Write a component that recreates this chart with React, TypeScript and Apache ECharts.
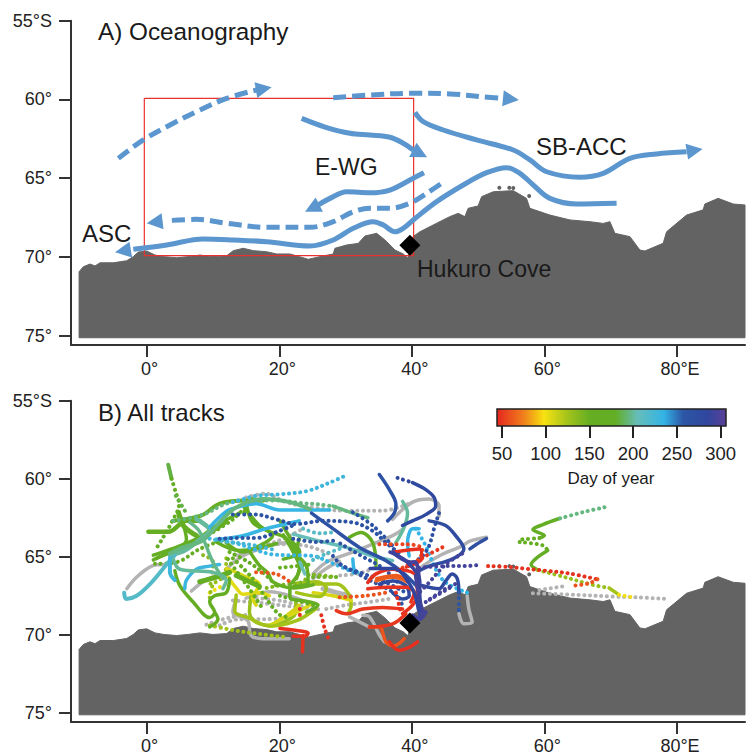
import React, { useEffect, useRef } from "react";
import * as echarts from "echarts";

type P = [number, number];
type Track = { day: number | null; dot: number; pts: P[]; w?: number };

const FONT = "'Liberation Sans', Arial, sans-serif";
const lonTicks = [0, 20, 40, 60, 80];
const latTicks = [55, 60, 65, 70, 75];
const dayTicks = [50, 100, 150, 200, 250, 300];
const colorDays = [44.3, 75, 98, 125, 150, 180, 205, 235, 257, 285, 306.2];
const colorHex = ["#e6261f", "#f0801c", "#f8e211", "#a3c31b", "#66ae22", "#62ae26", "#66bdb9", "#33b4e6", "#2c56a6", "#30469e", "#5b3f98"];

const coast: P[] = [
  [-10.2, 70.94], [-9.56, 70.62], [-8.55, 70.45], [-7.8, 70.57], [-7.04, 70.37], [-5.03, 70.37], [-3.02, 70.24], [-2.02, 69.98], [-1.27, 69.69],
  [0, 69.62], [1.25, 69.88], [2.6, 69.98], [4.52, 70.05], [6.2, 69.98], [8.04, 69.88], [10, 69.98], [12.07, 69.92], [13.06, 69.6], [14.57, 69.45], [16.08, 69.6], [18.1, 69.67], [19.6, 69.81],
  [21.6, 69.81], [23, 69.98], [24.37, 70.15], [26.14, 69.98], [28.14, 69.81], [28.4, 69.45], [30.17, 69.24], [31.9, 69.14], [32.93, 68.67], [34.69, 68.5], [35.94, 68.92],
  [37.45, 69.56], [38.7, 69.81], [39.4, 70.07], [40.17, 68.71], [41.22, 68.4], [43.74, 67.86], [45.72, 67.44], [47.0, 67.23], [48.0, 67.44], [48.5, 66.91],
  [50.0, 66.76], [50.53, 66.17], [52.28, 65.86], [55.3, 65.79], [57.3, 66.28], [57.8, 66.91], [60.83, 67.34], [63.85, 67.65], [66.86, 67.76], [68.87, 67.87],
  [69.88, 67.76], [70.63, 68.5], [72.9, 68.71], [74.4, 69.56], [75.16, 69.62], [77.92, 69.13], [78.43, 68.4], [81.45, 67.34], [83.95, 67.01], [84.2, 66.64],
  [86.2, 66.28], [88.5, 66.64], [90.26, 66.7], [90.26, 75.13], [-10.2, 75.13],
];
const islands: P[] = [[53.2, 65.6], [54.7, 65.6], [55.3, 65.62], [57.7, 66.13]];
const cove: P[] = [[39.7, 69.25]];
const redBox: P[] = [[-0.36, 59.93], [40.27, 59.93], [40.27, 69.92], [-0.36, 69.92], [-0.36, 59.93]];

const arrowNW: P[] = [[-4.28, 63.74], [-0.51, 62.57], [4.01, 61.51], [8.04, 60.67], [12.07, 59.93], [16.59, 59.4]];
const arrowNE: P[] = [[28.14, 59.89], [33.68, 59.72], [39.71, 59.61], [45.75, 59.65], [50.77, 59.83], [53.79, 59.93]];
const arrowWG: P[] = [[23.38, 61.2], [26.9, 61.75], [30.66, 62.15], [33.68, 62.26], [36.7, 62.4], [38.7, 62.78], [40.2, 63.21]];
const arrowSB: P[] = [[40.47, 60.82], [41.72, 61.41], [44.74, 61.94], [49.77, 62.57], [55.3, 63.21], [57.81, 63.84], [60.33, 64.59], [65.36, 64.94], [68.87, 64.69], [72.9, 63.74], [76.92, 63.46], [81.45, 63.32]];
const arrowASC: P[] = [[70.89, 66.59], [64.86, 66.64], [60.83, 66.28], [58.31, 65.43], [56.3, 64.69], [54.3, 64.33], [51.28, 64.65], [47.75, 65.43], [43.74, 66.49], [40.21, 67.65], [38.7, 68.18], [37.45, 68.4], [35.69, 67.97], [34.18, 67.76], [31.16, 68.18], [28.14, 68.92], [24.63, 69.3], [18.1, 69.03], [13.06, 68.92], [8.54, 68.86], [3.02, 69.24], [-2.02, 69.51]];
const arrowLow: P[] = [[41.83, 64.65], [40.21, 65.0], [36.7, 65.75], [33.68, 65.92], [30.17, 65.86], [27.65, 66.28], [25.8, 66.72]];
const arrowDash: P[] = [[44.34, 65.37], [42.23, 65.96], [39.71, 66.59], [36.7, 66.91], [33.68, 66.91], [31.16, 67.13], [28.14, 67.76], [24.63, 68.12], [18.1, 68.12], [12.07, 67.86], [7.54, 67.61], [3.02, 67.7]];
const arrows: { pts: P[]; tip: P; dash: boolean }[] = [
  { pts: arrowNW, tip: [18.85, 59.23], dash: true },
  { pts: arrowNE, tip: [56.15, 60.03], dash: true },
  { pts: arrowWG, tip: [42.3, 63.67], dash: false },
  { pts: arrowSB, tip: [83.86, 63.15], dash: false },
  { pts: arrowASC, tip: [-4.78, 69.7], dash: false },
  { pts: arrowLow, tip: [23.88, 67.13], dash: false },
  { pts: arrowDash, tip: [0, 67.86], dash: true },
];

const grayTracks: Track[] = [
  { day: null, dot: 0, pts: [[-3, 67.05], [-1.5, 66.3], [0.75, 65.6], [2.5, 65.5]] },
  { day: null, dot: 0, pts: [[6.75, 67.2], [8.5, 66.6], [10.5, 66.2]] },
  { day: null, dot: 1, pts: [[15, 61.2], [18, 60.95], [19, 61.1], [21, 61.5], [25.1, 61.85], [30.1, 62.05], [35.6, 62.05], [40.1, 61.5]] },
  { day: null, dot: 0, pts: [[37.1, 62.6], [40.1, 61.5], [42.6, 61.3], [44.1, 61.75], [44.1, 62.4]] },
  { day: null, dot: 0, pts: [[12, 65.8], [14.5, 64.95], [18.5, 64.3], [21, 64.1], [23, 64.5]] },
  { day: null, dot: 0, pts: [[13.5, 67.7], [13, 68.55], [15.25, 69.1], [15.75, 70.05], [17.5, 70.25], [21.5, 70.25]] },
  { day: null, dot: 1, pts: [[13, 67.8], [18, 68], [22, 68.2], [26.6, 68.4]] },
  { day: null, dot: 1, pts: [[11, 69.4], [14, 69], [18, 69], [22, 68.9]] },
  { day: null, dot: 1, pts: [[14, 64.9], [17, 64.5], [20, 64.2], [24, 64.3], [28, 64.9]] },
  { day: null, dot: 0, pts: [[25.1, 66.1], [27.1, 65.35], [31.1, 64.7], [37.1, 63.65], [38.6, 63.25]] },
  { day: null, dot: 0, pts: [[26.6, 67.05], [28.6, 67.3], [30.6, 67.5]], w: 5 },
  { day: null, dot: 1, pts: [[27.1, 68.35], [30.1, 68.1], [33.6, 67.9], [36.6, 67.7]] },
  { day: null, dot: 0, pts: [[32.6, 68.75], [33.6, 68.85], [35.1, 70], [35.85, 70.45]] },
  { day: null, dot: 0, pts: [[30.6, 68.85], [33.6, 69.5]] },
  { day: null, dot: 0, pts: [[51.26, 63.75], [48.76, 64], [47.6, 64.3], [44.1, 64.95], [41.6, 65.6]] },
  { day: null, dot: 0, pts: [[48.35, 67.5], [48.6, 68.35], [49.1, 69.2], [47.85, 69.3], [47.1, 68.65]] },
  { day: null, dot: 1, pts: [[59.26, 67.13], [63.26, 66.87]] },
  { day: null, dot: 1, pts: [[58.26, 67.34], [64.76, 67.44], [70.26, 67.55], [73.76, 67.6], [78.5, 67.7]] },
  { day: null, dot: 1, pts: [[13.5, 64.9], [17, 64.4], [20.6, 63.85], [23.6, 63.2]] },
  { day: null, dot: 0, pts: [[15, 67.65], [18.6, 67.25], [22.6, 67.65], [25.1, 68.1]] },
  { day: null, dot: 1, pts: [[9, 69.35], [12.5, 68.9], [15.6, 68.7]] },
  { day: null, dot: 1, pts: [[16.6, 67.65], [20.6, 67.85], [23.6, 68.2]] },
  { day: null, dot: 0, pts: [[25.1, 66.4], [27.1, 65.75], [29.1, 65.3]] },
  { day: null, dot: 1, pts: [[29.2, 66.2], [32.2, 66.05], [34.7, 65.65]] },
];

const yellowTracks: Track[] = [
  { day: 125, dot: 1, pts: [[9.5, 69.4], [13, 69.7], [17, 69.95], [21, 70.15]] },
  { day: 135, dot: 1, pts: [[8.5, 64.9], [10, 65.35], [9.5, 67.05]] },
  { day: 130, dot: 0, pts: [[15.75, 67.5], [15.5, 68.55], [16.5, 69.2], [19, 69.4], [21.5, 69], [22.5, 68.55], [22.5, 67.9]] },
  { day: 105, dot: 0, pts: [[12.25, 66.3], [13.5, 67], [14.5, 67.4], [17, 67.3], [18.5, 67.5]] },
  { day: 100, dot: 1, pts: [[9.5, 67.3], [11.5, 66.85], [13, 66.6]] },
  { day: 110, dot: 0, pts: [[18.5, 69.4], [20.5, 68.95], [22.5, 68.3], [23, 68.1]] },
  { day: 108, dot: 0, pts: [[20.1, 69], [22.6, 68.55], [25.1, 68]] },
  { day: 125, dot: 0, pts: [[25.1, 66.75], [28.6, 66.75], [30.35, 67.3], [30.85, 68.1], [30.35, 68.65]] },
  { day: 108, dot: 0, pts: [[25.1, 67.3], [28.1, 67.5], [30.85, 67.8]] },
  { day: 150, dot: 1, pts: [[25.1, 66.3], [29.1, 66.3]] },
  { day: 150, dot: 1, pts: [[20.1, 65.7], [22.6, 65.6], [24.6, 65.5]] },
  { day: 130, dot: 1, pts: [[12, 65.1], [11.8, 66.15], [10, 66.8], [9.5, 67.65]] },
  { day: 108, dot: 0, pts: [[12, 65.75], [14.5, 66.2], [17, 66.8], [16, 67.65], [16.5, 68.1]] },
  { day: 125, dot: 0, pts: [[13.5, 67.45], [13.3, 68.5], [15.3, 68.9], [18.6, 69.45], [22.6, 69.1], [25.6, 68.3]] },
  { day: 125, dot: 0, pts: [[22.6, 67.3], [26.1, 67.55], [27.1, 67], [25.6, 66.6], [22.6, 66.7]] },
  { day: 140, dot: 1, pts: [[18.1, 67], [20.6, 66.8], [23.6, 66.6], [24.6, 66.15], [28.6, 66.3]] },
];

const greenTracks: Track[] = [
  { day: 185, dot: 0, pts: [[3.25, 59.1], [3.75, 60.0]], w: 4 },
  { day: 175, dot: 1, pts: [[3.75, 60.0], [4.4, 60.9], [4.9, 61.6], [3.75, 62.8], [2.5, 63.75], [1.25, 64.6]] },
  { day: 185, dot: 1, pts: [[4.4, 61.1], [6.1, 62.3]] },
  { day: 160, dot: 0, pts: [[0.25, 63.4], [3.25, 63.4], [6, 62.7], [8, 62.7]], w: 4.5 },
  { day: 160, dot: 0, pts: [[1, 65.2], [2, 65], [4.75, 64.5], [6, 63.9], [5.5, 62.9], [5, 62.3]] },
  { day: 160, dot: 0, pts: [[4.25, 65.9], [5, 66.85], [7, 67.9], [9.5, 68.9], [10.25, 68.55], [9.5, 67.9], [10.25, 67.5], [12, 67.3], [12.5, 66.4]] },
  { day: 160, dot: 0, pts: [[9.5, 69.5], [10.75, 69], [10.25, 68.55]] },
  { day: 165, dot: 0, pts: [[8, 66.6], [10.5, 66.3], [12.5, 66]], w: 5 },
  { day: 160, dot: 0, pts: [[14.75, 62.2], [15.25, 61.6], [17.5, 61.4]] },
  { day: 160, dot: 0, pts: [[15, 62], [17, 63], [19, 63.65], [17, 64.3], [14.5, 64.7], [12, 64.1]] },
  { day: 155, dot: 1, pts: [[12.5, 64.7], [15, 65.25], [17.5, 66], [20, 67.05]] },
  { day: 150, dot: 1, pts: [[12.25, 65.15], [14, 66.2], [15.5, 67.05], [17.5, 68.35]] },
  { day: 160, dot: 0, pts: [[20.1, 62.7], [22.1, 64.1], [23.1, 64.7], [20.6, 65.15]] },
  { day: 160, dot: 0, pts: [[23.1, 63.75], [22.6, 64.7], [24.1, 65.6], [24.35, 66.65], [21.6, 67.05], [21.6, 67.6], [24.6, 67.9], [25.85, 68.1], [24.1, 68.55]] },
  { day: 160, dot: 1, pts: [[20.1, 67.5], [22.6, 67.8], [25.1, 68.1]] },
  { day: 160, dot: 0, pts: [[30.6, 63.75], [32.35, 63.45], [34.1, 64.1], [34.6, 65.6]] },
  { day: 160, dot: 1, pts: [[56.26, 64.06], [59.76, 64.27], [60.5, 64.6]] },
  { day: 160, dot: 0, pts: [[60.5, 64.6], [58.76, 65.1], [58, 65.5], [59, 65.85]] },
  { day: 165, dot: 0, pts: [[62.26, 62.55], [59.76, 62.94], [58.26, 63.26], [60.0, 63.64], [59.26, 63.8]] },
  { day: 165, dot: 1, pts: [[59.26, 63.8], [56.26, 63.9]] },
  { day: 130, dot: 1, pts: [[59, 65.85], [62.76, 66.27], [67.26, 66.8], [69.76, 67]] },
  { day: 125, dot: 0, pts: [[69.76, 67], [71.26, 67.44]] },
  { day: 100, dot: 1, pts: [[71.26, 67.44], [73.26, 67.6]] },
  { day: 195, dot: 1, pts: [[69.06, 61.83], [65.76, 62.15], [62.26, 62.55]] },
  { day: 160, dot: 0, pts: [[15.6, 64.7], [17, 65.55], [18.3, 66.05], [19, 66.6], [22.1, 67], [25.1, 66.8]] },
  { day: 160, dot: 0, pts: [[20.6, 63.6], [22.1, 64.7], [23.1, 65.75], [21.6, 66.8]] },
  { day: 150, dot: 1, pts: [[13, 65.1], [16, 66.4], [18, 67.65], [20, 68.7], [21.6, 68.9]] },
  { day: 160, dot: 0, pts: [[13.5, 66.2], [17, 66.9]], w: 5 },
  { day: 160, dot: 0, pts: [[4, 62.7], [8.3, 62.35], [11, 61.6], [15, 61.4], [17.6, 61.4]], w: 4 },
  { day: 160, dot: 0, pts: [[15, 61.5], [16, 62.8], [18.6, 63.4], [21.1, 63.85], [23.1, 65.5], [22.6, 66.4]] },
  { day: 160, dot: 0, pts: [[10.5, 64.05], [14, 64.6], [19.6, 64.15]] },
  { day: 160, dot: 0, pts: [[4.8, 62.15], [5.5, 63], [7.5, 63.65]], w: 5 },
  { day: 160, dot: 0, pts: [[1.5, 65.1], [4.5, 64.5], [8.5, 63.75], [12, 62.8]] },
  { day: 160, dot: 1, pts: [[9.3, 63.6], [13, 62.6], [16, 61.3]] },
  { day: 165, dot: 0, pts: [[1, 64.9], [3.75, 64.5], [8, 63.75], [10.5, 63], [14, 62.2]] },
  { day: 160, dot: 1, pts: [[1.25, 65.45], [4.5, 65.35], [8, 64.5], [12, 63.85]] },
];

const blueTracks: Track[] = [
  { day: 195, dot: 1, pts: [[4, 62.7], [8.5, 62.3], [12, 61.6], [15.5, 61.4], [20.1, 61.4], [23.1, 61.55], [26.1, 61.65], [29.1, 61.85]] },
  { day: 200, dot: 0, pts: [[3.5, 64.9], [5.75, 64.6], [8, 63.9], [9.5, 63.3], [7.5, 62.6]], w: 4.5 },
  { day: 205, dot: 0, pts: [[22.1, 63.55], [26.1, 64], [30.1, 64.4], [34.1, 64.95], [37.1, 65.25]] },
  { day: 205, dot: 0, pts: [[23.1, 65.35], [23.85, 66.1]] },
  { day: 195, dot: 0, pts: [[28.1, 61.75], [31.1, 62.2], [33.35, 62.5]] },
  { day: 200, dot: 0, pts: [[38.6, 61.45], [39.35, 62.2], [38.85, 63.1], [37.6, 64.1]] },
  { day: 215, dot: 0, pts: [[-3.4, 67.3], [-3.1, 67.7], [-1.5, 67.5], [0.5, 66.75], [3, 65.5], [4.25, 64.9]], w: 4 },
  { day: 230, dot: 0, pts: [[5.75, 67.05], [6, 66.5], [7.5, 65.8], [9.5, 65.6], [11, 65.5]] },
  { day: 228, dot: 0, pts: [[3.5, 65.1], [3.5, 66], [4.25, 66.5]], w: 4 },
  { day: 228, dot: 1, pts: [[13, 61.5], [16.5, 61.1], [20, 61], [24.1, 60.8], [27.6, 60.25], [29.85, 59.83]] },
  { day: 232, dot: 0, pts: [[9.5, 63.1], [12, 62.1], [13.5, 61.85], [16.5, 61.6], [20.1, 62], [27.6, 62]] },
  { day: 232, dot: 0, pts: [[10.5, 63.9], [14.5, 63.65], [18, 63.2], [21, 62.9], [23, 62.7]] },
  { day: 232, dot: 1, pts: [[10.5, 63.9], [14, 64.2], [16, 64.5], [19, 64.85], [25.1, 64.95], [27.6, 65.35], [29.6, 65.7], [31.6, 66.1]] },
  { day: 235, dot: 1, pts: [[40.6, 63.2], [42.1, 64.3], [43.6, 65.8], [45.1, 66.65], [48.35, 67.3]] },
  { day: 235, dot: 0, pts: [[41.1, 63.2], [40.1, 63.2], [39.35, 64.1], [39.6, 64.95]] },
  { day: 235, dot: 0, pts: [[31.1, 65.15], [31.35, 65.9], [31.85, 66]] },
  { day: 195, dot: 0, pts: [[3.5, 64.8], [5.5, 64.4], [8.5, 63.95], [11, 62.8], [13.5, 61.85], [17.6, 61.3], [21.6, 61.5], [24.6, 61.95]], w: 4 },
  { day: 225, dot: 1, pts: [[9.5, 63.85], [12.5, 64.05], [16, 64.25], [19.6, 64.6]] },
  { day: 215, dot: 1, pts: [[23.6, 63.2], [26.1, 63.5], [28.6, 63.4]] },
  { day: 215, dot: 1, pts: [[25.1, 65.2], [27.1, 64.8], [29.1, 64.5]] },
  { day: 200, dot: 0, pts: [[4, 65.15], [5, 65.8], [10, 66], [12, 66.5], [11.5, 67.05]] },
  { day: 197, dot: 0, pts: [[6.5, 62.8], [8, 63.4], [10, 65.35], [11.5, 66.4]] },

  { day: 262, dot: 1, pts: [[13, 62.3], [16.5, 62.3], [19.5, 62.6], [22.6, 62.9], [26.6, 62.7], [31.1, 62.8], [34.1, 63.35], [36.1, 64.1], [38.6, 64.95]] },
  { day: 262, dot: 1, pts: [[11, 63.85], [13.5, 63.8], [16.5, 63.8], [20, 63.35], [22.5, 62.9]] },
  { day: 262, dot: 1, pts: [[22.1, 63.85], [25.6, 64.05], [28.6, 63.95]] },
  { day: 262, dot: 1, pts: [[29.2, 65.5], [33.2, 66.4], [37.7, 67.45], [38.7, 68.3]] },
  { day: 262, dot: 1, pts: [[29.2, 64.15], [32.2, 64.9], [35.7, 65.75], [38.2, 66.8]] },
  { day: 265, dot: 0, pts: [[35.1, 59.73], [36.6, 60.7], [37.6, 61.65], [37.35, 62.2], [36.35, 62.7]] },
  { day: 265, dot: 0, pts: [[24.85, 62.2], [28.1, 63.2], [32.1, 64.4], [36.1, 65.25], [38.6, 66], [41.1, 67.05]] },
  { day: 260, dot: 1, pts: [[31.1, 62.15], [34.1, 63.0], [37.1, 64.3]] },
  { day: 265, dot: 1, pts: [[28.1, 64.95], [29.6, 65.6], [32.1, 66], [35.6, 66.55], [39.1, 67.3]] },
  { day: 265, dot: 1, pts: [[44.1, 62.2], [43.35, 63.2], [42.6, 64.3], [41.6, 64.95], [40.1, 65.4]] },
  { day: 275, dot: 0, pts: [[42.6, 62.7], [45.1, 63], [46.6, 63.65], [47.85, 64.5], [46.1, 65.15], [42.6, 65.6], [41.1, 65.9]] },
  { day: 270, dot: 0, pts: [[51.26, 63.83], [49.76, 64.2], [48.76, 64.5]] },
  { day: 280, dot: 0, pts: [[41.6, 66.85], [44.1, 67.05], [45.1, 66.55], [46.1, 66.1], [46.85, 66.4], [47.1, 67.3]] },
  { day: 262, dot: 1, pts: [[47.1, 67.3], [47.1, 68.55]] },
  { day: 285, dot: 1, pts: [[37.85, 59.95], [40.1, 60.25]] },
  { day: 280, dot: 0, pts: [[40.1, 60.25], [42.1, 60.7], [43.35, 61.2], [43.6, 61.75], [42.1, 62.3], [40.1, 62.7], [38.6, 63.0]] },
  { day: 295, dot: 1, pts: [[47.6, 64.8], [45.1, 65.5], [42.6, 66.65], [41.1, 67.3]] },
  { day: 295, dot: 1, pts: [[41.1, 65.7], [45.1, 65.6], [48.1, 65.6], [50.5, 65.5]] },
  { day: 280, dot: 0, pts: [[35.1, 66.75], [37.1, 66.55], [39.1, 66.85], [39.6, 67.5], [38.6, 67.7], [37.1, 67.3]] },
  { day: 295, dot: 1, pts: [[42.1, 67.9], [45.1, 67.05], [47.1, 66.65]] },
];

const redTracks: Track[] = [
  { day: 50, dot: 1, pts: [[44.6, 64.4], [42.1, 64.95], [40.1, 65.45]] },
  { day: 60, dot: 1, pts: [[16.5, 66], [19.5, 66.1], [21.75, 66.65]] },
  { day: 48, dot: 0, pts: [[20.1, 69.6], [22.1, 69.7], [24.35, 69.9], [23.85, 70.1], [22.1, 70.1]] },
  { day: 48, dot: 0, pts: [[23.6, 70.05], [23.5, 71.1]] },
  { day: 48, dot: 1, pts: [[23.1, 68.35], [23.1, 69]] },
  { day: 48, dot: 1, pts: [[26.35, 68.75], [26.85, 69.6], [27.5, 70.35]] },
  { day: 55, dot: 1, pts: [[35.1, 64.2], [39.1, 64.2], [41.6, 64.5], [41.1, 65.15], [39.1, 65.6], [37.6, 65.9]] },
  { day: 48, dot: 0, pts: [[33.35, 66.65], [34.6, 66.1], [37.1, 65.8], [39.35, 65.9], [40.6, 66.2], [40.85, 67.5], [40.1, 68.1], [38.6, 68.65]] },
  { day: 65, dot: 0, pts: [[34.6, 66.55], [37.1, 66.3], [39.1, 66.55]] },
  { day: 48, dot: 0, pts: [[33.35, 67.05], [36.1, 66.95], [39.1, 66.95], [40.35, 67.3], [39.85, 67.9]] },
  { day: 50, dot: 0, pts: [[28.6, 68.45], [30.1, 68.65], [32.6, 68.35], [35.6, 68.25], [38.6, 68.35]] },
  { day: 60, dot: 1, pts: [[29.1, 67.6], [33.1, 67.5], [36.1, 67.3]] },
  { day: 48, dot: 1, pts: [[37.6, 67.3], [38.35, 68.55]] },
  { day: 60, dot: 0, pts: [[33.6, 69.5], [35.1, 69.5], [36.1, 70.45], [37.35, 70.7], [38.85, 70.25]] },
  { day: 47, dot: 0, pts: [[36.6, 70.45], [38.1, 71], [39.6, 70.8], [40.85, 70.45]] },
  { day: 50, dot: 0, pts: [[33.6, 69.5], [37.1, 69.3], [39.1, 68.65]] },
  { day: 48, dot: 1, pts: [[51.5, 65.6], [54.5, 65.65], [56.76, 65.75], [60.26, 65.9], [63.76, 66.07], [68, 66.45]] },
  { day: 60, dot: 1, pts: [[68, 66.45], [66.76, 66.7], [64.26, 66.87]] },
  { day: 48, dot: 0, pts: [[37.2, 64.7], [41.2, 64.5], [41.5, 65.1], [39.2, 65.65]] },
  { day: 62, dot: 0, pts: [[34.7, 66.4], [37.7, 66.2], [39.2, 66.6]] },
];

const purpleTracks: Track[] = [
  { day: 295, dot: 0, pts: [[41.1, 66.65], [40.6, 65.35], [39.85, 65.35], [37.1, 64.7]], w: 4 },
  { day: 295, dot: 0, pts: [[40.6, 66.2], [41.35, 68.1], [41.85, 68.65]], w: 4 },
  { day: 295, dot: 0, pts: [[40.1, 68.75], [41.1, 69], [42.1, 68.55]], w: 4 },
  { day: 290, dot: 0, pts: [[36.7, 64.7], [39.2, 65.3], [41.2, 66.6], [41.2, 68.1], [41.2, 68.8]] },
  { day: 285, dot: 0, pts: [[33.7, 65.75], [37.2, 65.75], [40, 67], [41, 68.4]] },
  { day: 295, dot: 1, pts: [[42.7, 67.75], [45.7, 67]] },
];

const tracks: Track[] = [...grayTracks, ...yellowTracks, ...greenTracks, ...blueTracks, ...redTracks, ...purpleTracks];

const dayColor = (d: number | null) => {
  if (d === null) return "#b3b3b3";
  for (let i = 1; i < colorDays.length; i++) {
    if (d <= colorDays[i]) {
      const t = (d - colorDays[i - 1]) / (colorDays[i] - colorDays[i - 1]);
      return echarts.color.lerp(t, [colorHex[i - 1], colorHex[i]]) as string;
    }
  }
  return colorHex[colorHex.length - 1];
};

const AXIS = "#333333";
const mapAxes = (g: number) => ({
  x: {
    type: "value", gridIndex: g, min: -11.42, max: 90.26, position: "bottom",
    splitLine: { show: false },
    axisLine: { show: true, onZero: false, lineStyle: { color: AXIS, width: 2 } },
    axisTick: { show: true, length: 12, customValues: lonTicks, lineStyle: { color: AXIS, width: 2 } },
    axisLabel: { customValues: lonTicks, margin: 15, fontSize: 18, color: "#222", fontFamily: FONT, padding: [0, 0, 0, 6], formatter: (v: number) => (v === 80 ? "80°E" : v + "°") },
  },
  y: {
    type: "value", gridIndex: g, inverse: true, min: 55, max: 75.59, position: "left",
    splitLine: { show: false },
    axisLine: { show: true, onZero: false, lineStyle: { color: AXIS, width: 2 } },
    axisTick: { show: true, length: 12, customValues: latTicks, lineStyle: { color: AXIS, width: 2 } },
    axisLabel: { customValues: latTicks, margin: 19, fontSize: 18, color: "#222", fontFamily: FONT, padding: [4, 0, 0, 0], formatter: (v: number) => (v === 55 ? "55°S" : v + "°") },
  },
});

const landSeries = (g: number) => ({
  type: "custom", xAxisIndex: g, yAxisIndex: g, silent: true, data: [[0, 70]], encode: { x: 0, y: 1 },
  renderItem: (_: any, api: any) => ({
    type: "polygon",
    shape: { points: coast.map((p) => api.coord(p)) },
    style: { fill: "#636363", stroke: "#636363", lineWidth: 1, lineJoin: "round" },
  }),
});
const islandSeries = (g: number) => ({
  type: "scatter", xAxisIndex: g, yAxisIndex: g, silent: true, symbolSize: 4, itemStyle: { color: "#636363", opacity: 1 }, data: islands,
});
const coveSeries = (g: number) => ({
  type: "scatter", xAxisIndex: g, yAxisIndex: g, silent: true, symbol: "diamond", symbolSize: 21, z: 20, itemStyle: { color: "#000", opacity: 1 }, data: cove,
});

const ARROW = "#5b96cf";
const arrowSeries = arrows.map((a) => ({
  type: "line", xAxisIndex: 0, yAxisIndex: 0, silent: true, showSymbol: false, smooth: 0.35, data: a.pts, z: 6,
  lineStyle: { color: ARROW, width: 5, type: a.dash ? [13, 6] : "solid" },
}));
const headSeries = {
  type: "custom", xAxisIndex: 0, yAxisIndex: 0, silent: true, z: 7,
  data: arrows.map((a) => [a.tip[0], a.tip[1], a.pts[a.pts.length - 1][0], a.pts[a.pts.length - 1][1]]),
  encode: { x: [0, 2], y: [1, 3] },
  renderItem: (_: any, api: any) => {
    const tip = api.coord([api.value(0), api.value(1)]);
    const prev = api.coord([api.value(2), api.value(3)]);
    const dx = prev[0] - tip[0], dy = prev[1] - tip[1];
    const n = Math.hypot(dx, dy) || 1;
    const ux = dx / n, uy = dy / n;
    const bx = tip[0] + ux * 16, by = tip[1] + uy * 16;
    return {
      type: "polygon",
      shape: { points: [tip, [bx - uy * 8, by + ux * 8], [bx + uy * 8, by - ux * 8]] },
      style: { fill: ARROW },
    };
  },
};
const trackSeries = tracks.map((t) => ({
  type: "line", xAxisIndex: 1, yAxisIndex: 1, silent: true, showSymbol: false, smooth: 0.35, data: t.pts, z: 5,
  lineStyle: t.dot
    ? { color: dayColor(t.day), width: 4, type: [0.1, 5.6], cap: "round" }
    : { color: dayColor(t.day), width: t.w ?? 3.5, cap: "round" },
}));
const colorbarSeries = {
  type: "custom", xAxisIndex: 2, yAxisIndex: 2, silent: true, data: [[colorDays[0], 0, colorDays[colorDays.length - 1], 1]], encode: { x: [0, 2], y: [1, 3] },
  renderItem: (_: any, api: any) => {
    const a = api.coord([api.value(0), api.value(3)]);
    const b = api.coord([api.value(2), api.value(1)]);
    const span = colorDays[colorDays.length - 1] - colorDays[0];
    return {
      type: "rect",
      shape: { x: a[0], y: a[1], width: b[0] - a[0], height: b[1] - a[1] },
      style: {
        fill: new echarts.graphic.LinearGradient(0, 0, 1, 0, colorDays.map((d, i) => ({ offset: (d - colorDays[0]) / span, color: colorHex[i] }))),
        stroke: "#222", lineWidth: 1.5,
      },
    };
  },
};

const label = (text: string, x: number, y: number, size: number, align = "left") => ({
  type: "text", x, y, silent: true, z: 30,
  style: { text, fontSize: size, fontFamily: FONT, fill: "#1a1a1a", align, verticalAlign: "middle" },
});

export default function App() {
  const ref = useRef<HTMLDivElement>(null);
  useEffect(() => {
    const chart = echarts.init(ref.current!, undefined, { renderer: "svg" });
    const a = mapAxes(0), b = mapAxes(1);
    chart.setOption({
      animation: false,
      backgroundColor: "#fff",
      textStyle: { fontFamily: FONT },
      grid: [
        { left: 71, top: 20.7, width: 674, height: 324.3 },
        { left: 71, top: 400.7, width: 674, height: 324.3 },
        { left: 497, top: 409, width: 229, height: 17 },
      ],
      xAxis: [a.x, b.x, {
        type: "value", gridIndex: 2, min: colorDays[0], max: colorDays[colorDays.length - 1], position: "bottom",
        splitLine: { show: false },
        axisLine: { show: false },
        axisTick: { show: true, length: 12, customValues: dayTicks, lineStyle: { color: "#222", width: 2 } },
        axisLabel: { customValues: dayTicks, margin: 18, fontSize: 18.5, color: "#222", fontFamily: FONT },
      }],
      yAxis: [a.y, b.y, { type: "value", gridIndex: 2, min: 0, max: 1, show: false }],
      series: [
        landSeries(0), islandSeries(0),
        {
          type: "line", xAxisIndex: 0, yAxisIndex: 0, silent: true, showSymbol: false, data: redBox, z: 4,
          lineStyle: { color: "#e8322c", width: 1.2 },
        },
        ...arrowSeries, headSeries, coveSeries(0),
        landSeries(1), islandSeries(1), ...trackSeries, coveSeries(1),
        colorbarSeries,
      ],
      graphic: [
        label("A) Oceanography", 98, 31, 24.3),
        label("B) All tracks", 98, 412, 24),
        label("E-WG", 315, 167, 23),
        label("SB-ACC", 536, 146, 24),
        label("ASC", 82, 233, 24),
        label("Hukuro Cove", 417, 269, 23),
        label("Day of year", 611, 478, 17, "center"),
      ],
    });
    return () => chart.dispose();
  }, []);
  return <div ref={ref} style={{ position: "fixed", left: 0, top: 0, width: 747, height: 755 }} />;
}
